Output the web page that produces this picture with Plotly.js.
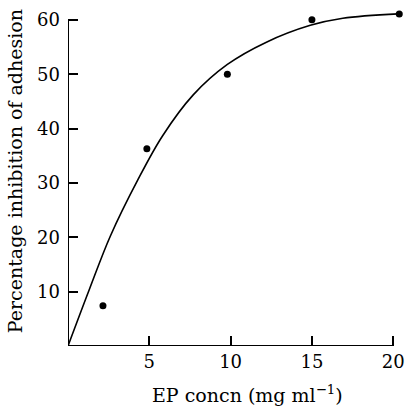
<!DOCTYPE html>
<html>
<head>
<meta charset="utf-8">
<script src="https://cdn.plot.ly/plotly-3.0.1.min.js"></script>
<style>
html,body{margin:0;padding:0;background:#fff;}
#chart{width:405px;height:406px;}
</style>
</head>
<body>
<div id="chart"></div>
<script>
// Measured points
const concn = [2.15, 4.85, 9.8, 15.0, 20.37];
const inhibition = [7.4, 36.3, 50.0, 60.0, 61.1];
// Fitted curve as drawn in the figure
const curveX = [0, 1.3, 2.6, 4.3, 5.8, 7.7, 9.8, 12.2, 14.9, 16.9, 20.3];
const curveY = [0, 10.3, 20.2, 30.6, 38.6, 46.2, 51.8, 55.9, 59.0, 60.3, 61.1];
// Ticks
const xTicks = [5, 10, 15, 20];
const yTicks = [10, 20, 30, 40, 50, 60];
const xAxisEnd = 20;
const yAxisEnd = 60;
const xTitle = 'EP concn (mg ml<sup>−1</sup>)';
const yTitle = 'Percentage inhibition of adhesion';

const font = 'DejaVu Serif';

const traces = [
  {x: curveX, y: curveY, mode: 'lines', type: 'scatter',
   line: {color: '#000', width: 1.6, shape: 'spline', smoothing: 1},
   hoverinfo: 'skip'},
  {x: concn, y: inhibition, mode: 'markers', type: 'scatter',
   marker: {color: '#000', size: 7}, cliponaxis: false}
];

const axisCommon = {
  showline: false,
  ticks: 'inside', tickcolor: '#000', tickwidth: 2, ticklen: 10,
  showgrid: false, zeroline: false,
  tickfont: {family: font, size: 18, color: '#000'},
  tickmode: 'array', fixedrange: true
};

const layout = {
  width: 405, height: 406,
  margin: {l: 68, r: 2, t: 9, b: 60, pad: 0},
  paper_bgcolor: '#fff', plot_bgcolor: '#fff',
  showlegend: false,
  font: {family: font, color: '#000'},
  xaxis: Object.assign({}, axisCommon, {range: [0, 20.6], tickvals: xTicks, ticklabelstandoff: 3}),
  yaxis: Object.assign({}, axisCommon, {range: [0, 62], tickvals: yTicks, ticklabelstandoff: 7}),
  shapes: [
    {type: 'line', xref: 'x', yref: 'y', x0: 0, x1: xAxisEnd, y0: 0, y1: 0,
     line: {color: '#000', width: 2}, layer: 'above'},
    {type: 'line', xref: 'x', yref: 'y', x0: 0, x1: 0, y0: 0, y1: yAxisEnd,
     line: {color: '#000', width: 2}, layer: 'above'}
  ],
  annotations: [
    {text: xTitle, xref: 'paper', yref: 'paper', x: 0.535, y: -0.142,
     xanchor: 'center', yanchor: 'middle', showarrow: false,
     font: {family: font, size: 19, color: '#000'}},
    {text: yTitle, xref: 'paper', yref: 'paper', x: -0.16, y: 0.52,
     xanchor: 'center', yanchor: 'middle', showarrow: false, textangle: -90,
     font: {family: font, size: 19, color: '#000'}}
  ]
};

Plotly.newPlot('chart', traces, layout, {displayModeBar: false, staticPlot: true});
</script>
</body>
</html>
